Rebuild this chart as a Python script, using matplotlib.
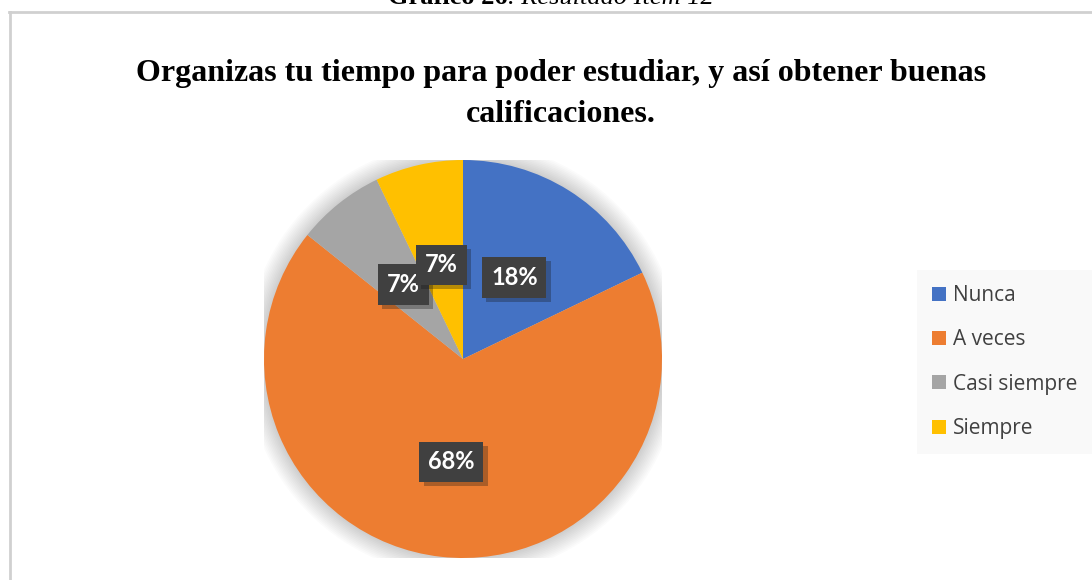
import numpy as np
import matplotlib.pyplot as plt
from matplotlib.patches import Patch, Circle
from matplotlib.lines import Line2D
import matplotlib.patheffects as pe

categorias = ["Nunca", "A veces", "Casi siempre", "Siempre"]
respuestas = [5, 19, 2, 2]
etiquetas = ["18%", "68%", "7%", "7%"]
colores = ["#4472C4", "#ED7D31", "#A5A5A5", "#FFC000"]
titulo = "Organizas tu tiempo para poder estudiar, y así obtener buenas\ncalificaciones."

W, H = 1092, 580
fig = plt.figure(figsize=(W / 100, H / 100), dpi=100)
fig.patch.set_facecolor("white")

# encabezado cortado arriba
fig.text(508 / W, 1 - 4 / H, "Gráfico 26", family="Liberation Serif", weight="bold",
         fontsize=19, ha="right", va="baseline")
fig.text(508 / W, 1 - 4 / H, ". Resultado Ítem 12", family="Liberation Serif", style="italic",
         fontsize=19, ha="left", va="baseline")

# borde del gráfico
fig.add_artist(Line2D([9.5 / W, 9.5 / W], [0, 1 - 12 / H], color="#d0d0d0", lw=2, transform=fig.transFigure))
fig.add_artist(Line2D([9 / W, 1], [1 - 12 / H, 1 - 12 / H], color="#d0d0d0", lw=2, transform=fig.transFigure))

fig.text(561 / W, 1 - 94 / H, titulo, family="Liberation Serif", weight="bold",
         fontsize=23, ha="center", va="center", linespacing=1.58, color="black")

# pastel
cx, cy, r = 463, 359, 199
ax = fig.add_axes([(cx - r) / W, (H - cy - r) / H, 2 * r / W, 2 * r / H])
ax.set_xlim(-1, 1)
ax.set_ylim(-1, 1)
ax.set_aspect("equal")
ax.axis("off")

# sombra suave
for k in range(12):
    ax.add_patch(Circle((0, 0), 1 + 0.008 * (k + 1), color="black", alpha=0.014, lw=0, zorder=0))

wedges, _ = ax.pie(respuestas, colors=colores, startangle=90, counterclock=False,
                   radius=1, wedgeprops=dict(linewidth=0))
for w in wedges:
    w.set_zorder(2)

ax.set_xlim(-1, 1)
ax.set_ylim(-1, 1)

dist = [0.485, 0.52, 0.48, 0.485]
for w, txt, d in zip(wedges, etiquetas, dist):
    ang = np.deg2rad((w.theta1 + w.theta2) / 2)
    t = ax.text(d * np.cos(ang), d * np.sin(ang), txt, ha="center", va="center",
                fontsize=17, weight="bold", family="Lato", color="white", zorder=5,
                bbox=dict(boxstyle="square,pad=0.37", facecolor="#404040", linewidth=0))
    t.get_bbox_patch().set_path_effects([pe.SimplePatchShadow(offset=(3, -3), alpha=0.3), pe.Normal()])

# leyenda
handles = [Patch(facecolor=c, edgecolor="none") for c in colores]
leg = fig.legend(handles, categorias, loc="upper left", bbox_to_anchor=(917 / W, 1 - 270 / H),
                 frameon=True, fancybox=False, labelspacing=1.12,
                 handlelength=0.65, handleheight=0.65, handletextpad=0.35,
                 borderpad=0.72, borderaxespad=0, prop=dict(family="Open Sans", size=15))
leg.get_frame().set_facecolor("#f8f8f8")
leg.get_frame().set_edgecolor("none")
for t in leg.get_texts():
    t.set_color("#404040")

fig.savefig("out.png", dpi=100)
